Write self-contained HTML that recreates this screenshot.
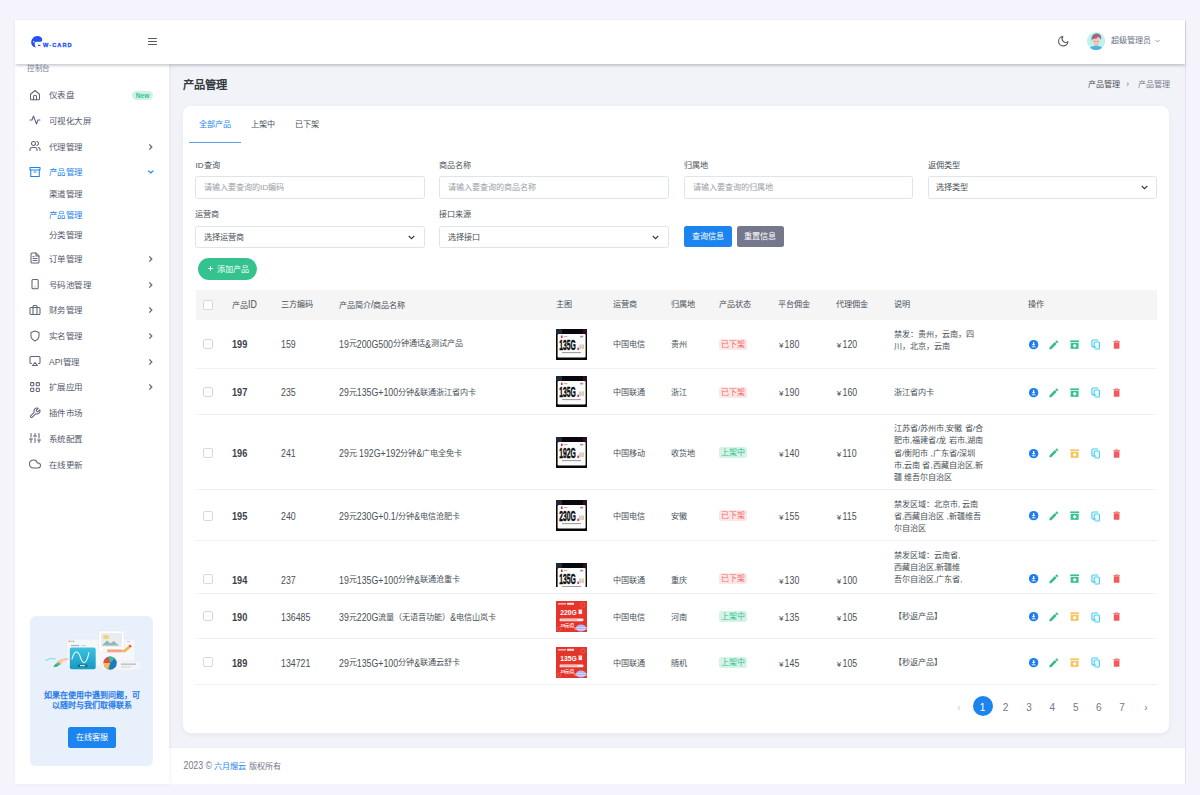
<!DOCTYPE html>
<html lang="zh-CN"><head><meta charset="utf-8"><style>
*{box-sizing:border-box;margin:0;padding:0}
html,body{width:1200px;height:795px;overflow:hidden}
body{background:#f5f4fd;font-family:"Liberation Sans",sans-serif;font-size:8.125px;color:#495057;position:relative}
.abs{position:absolute}
#app{position:absolute;left:15px;top:20px;width:1171px;height:764px;background:#f2f3f8;border-right:1px solid #e3e4ea}
#header{position:absolute;left:15px;top:20px;width:1169.5px;height:43.5px;background:#fff;box-shadow:0 2px 2.5px -0.5px rgba(40,45,80,.22),0 0 1.5px rgba(40,45,80,.07);z-index:5}
#sidebar{position:absolute;left:15px;top:63px;width:154px;height:721px;background:#fff;overflow:hidden;z-index:3;box-shadow:1px 0 4px rgba(40,45,80,.06)}
.mi{position:absolute;left:0;width:154px;height:14px;line-height:14px;color:#545a6d;font-size:8.125px}
.mi .ic{position:absolute;left:13.9px;top:1px;width:12px;height:12px}
.mi .tx{position:absolute;left:34px;top:0.5px;font-size:9px;transform:scale(.944);transform-origin:0 50%}
.mi .ch{position:absolute;left:132px;top:3.6px;width:8px;height:8px}
.sub{position:absolute;left:34px;height:12px;line-height:12px;color:#545a6d;font-size:9px;transform:scale(.944);transform-origin:0 50%}
#footer{position:absolute;left:169px;top:747px;width:1016px;height:37px;background:#fff;color:#74788d;border-top:1px solid #eceef3}
#card{position:absolute;left:183px;top:106px;width:986.4px;height:626.7px;background:#fff;border-radius:8px;box-shadow:0 2px 5px rgba(18,38,63,.05)}
.lbl{position:absolute;line-height:10px;height:10px;color:#495057;margin-top:0.9px}
.inp{position:absolute;width:229.4px;height:22.2px;border:1px solid #dfe3ea;border-radius:2.5px;line-height:20px;padding-left:7.5px;padding-top:0.9px;color:#9ba0a8;background:#fff}
.sel{color:#495057}
.sel svg{position:absolute;right:8.4px;top:8px}
.btn{position:absolute;height:21.7px;line-height:21.7px;text-align:center;color:#fff;border-radius:2.5px}
.row{position:absolute;left:12.8px;width:961px;border-bottom:1px solid #eff1f5;overflow:hidden}
.c{position:absolute;white-space:nowrap;line-height:12px;margin-top:0.6px}
.cb{position:absolute;width:10px;height:10px;border:1px solid #d6d9df;border-radius:2px;background:#fff}
.b{font-weight:bold;color:#3d4248}
.b .l{font-size:9.2px}
.nm .l{position:relative;top:1.2px}
.l{font-size:8.8px;display:inline-block;transform:scaleY(1.15);transform-origin:0 78%}
.badge{position:absolute;width:27.6px;height:11px;line-height:11px;text-align:center;border-radius:2.5px;font-size:8px}
.off{background:#fde6e6;color:#f46a6a}
.on{background:#d6f3e9;color:#34c38f}
.pg{position:absolute;top:589.9px;width:20px;height:20px;line-height:20px;text-align:center;font-size:10px;color:#74788d;padding-top:3px;line-height:17px}
</style></head>
<body>
<div id="app"></div>
<div class="abs" style="left:27px;top:64.3px;font-size:8px;color:#7a7f8e;line-height:10px;z-index:6;transform:scale(.94);transform-origin:0 0">控制台</div>
<div id="sidebar">
<div class="mi" style="top:24.7px;color:#545a6d"><svg class="ic" viewBox="0 0 24 24" fill="none" stroke="#5f6579" stroke-width="2.1" stroke-linecap="round" stroke-linejoin="round"><path d="M3 10.5L12 3l9 7.5V20a1.5 1.5 0 0 1-1.5 1.5h-15A1.5 1.5 0 0 1 3 20z"/><path d="M9 21.5v-6a3 3 0 0 1 6 0v6"/></svg><span class="tx">仪表盘</span><span class="abs" style="left:117.3px;top:2.9px;width:20.6px;height:9.3px;border-radius:4.7px;background:#d1f1e5;color:#34c38f;font-size:6.6px;font-weight:bold;line-height:9.3px;text-align:center">New</span></div>
<div class="mi" style="top:50.3px;color:#545a6d"><svg class="ic" viewBox="0 0 24 24" fill="none" stroke="#5f6579" stroke-width="2.1" stroke-linecap="round" stroke-linejoin="round"><polyline points="2 12 6 12 9 4 15 20 18 12 22 12"/></svg><span class="tx">可视化大屏</span></div>
<div class="mi" style="top:76.0px;color:#545a6d"><svg class="ic" viewBox="0 0 24 24" fill="none" stroke="#5f6579" stroke-width="2.1" stroke-linecap="round" stroke-linejoin="round"><path d="M16 21v-2a4 4 0 0 0-4-4H6a4 4 0 0 0-4 4v2"/><circle cx="9" cy="7" r="4"/><path d="M22 21v-2a4 4 0 0 0-3-3.87"/><path d="M16 3.13a4 4 0 0 1 0 7.75"/></svg><span class="tx">代理管理</span><svg class="ch" viewBox="0 0 8 8"><path d="M2.3 1.4L4.8 4 2.3 6.6" fill="none" stroke="#5f6579" stroke-width="1.25"/></svg></div>
<div class="mi" style="top:101.5px;color:#1c84ee"><svg class="ic" viewBox="0 0 24 24" fill="none" stroke="#1c84ee" stroke-width="2.1" stroke-linecap="round" stroke-linejoin="round"><polyline points="20.5 8 20.5 21 3.5 21 3.5 8"/><rect x="2" y="3" width="20" height="5"/><line x1="10" y1="12" x2="14" y2="12"/></svg><span class="tx">产品管理</span><svg class="ch" viewBox="0 0 8 8"><path d="M1.2 2.6L3.8 5 6.4 2.6" fill="none" stroke="#1c84ee" stroke-width="1.25"/></svg></div>
<div class="mi" style="top:188.3px;color:#545a6d"><svg class="ic" viewBox="0 0 24 24" fill="none" stroke="#5f6579" stroke-width="2.1" stroke-linecap="round" stroke-linejoin="round"><path d="M14 2H6a2 2 0 0 0-2 2v16a2 2 0 0 0 2 2h12a2 2 0 0 0 2-2V8z"/><polyline points="14 2 14 8 20 8"/><line x1="16" y1="13" x2="8" y2="13"/><line x1="16" y1="17" x2="8" y2="17"/><line x1="10" y1="9" x2="8" y2="9"/></svg><span class="tx">订单管理</span><svg class="ch" viewBox="0 0 8 8"><path d="M2.3 1.4L4.8 4 2.3 6.6" fill="none" stroke="#5f6579" stroke-width="1.25"/></svg></div>
<div class="mi" style="top:214.0px;color:#545a6d"><svg class="ic" viewBox="0 0 24 24" fill="none" stroke="#5f6579" stroke-width="2.1" stroke-linecap="round" stroke-linejoin="round"><rect x="6" y="3" width="12.4" height="18.5" rx="2" ry="2"/><line x1="12.2" y1="17.5" x2="12.21" y2="17.5"/></svg><span class="tx">号码池管理</span><svg class="ch" viewBox="0 0 8 8"><path d="M2.3 1.4L4.8 4 2.3 6.6" fill="none" stroke="#5f6579" stroke-width="1.25"/></svg></div>
<div class="mi" style="top:239.9px;color:#545a6d"><svg class="ic" viewBox="0 0 24 24" fill="none" stroke="#5f6579" stroke-width="2.1" stroke-linecap="round" stroke-linejoin="round"><rect x="2" y="7" width="20" height="14" rx="2" ry="2"/><path d="M16 21V5a2 2 0 0 0-2-2h-4a2 2 0 0 0-2 2v16"/></svg><span class="tx">财务管理</span><svg class="ch" viewBox="0 0 8 8"><path d="M2.3 1.4L4.8 4 2.3 6.6" fill="none" stroke="#5f6579" stroke-width="1.25"/></svg></div>
<div class="mi" style="top:265.6px;color:#545a6d"><svg class="ic" viewBox="0 0 24 24" fill="none" stroke="#5f6579" stroke-width="2.1" stroke-linecap="round" stroke-linejoin="round"><path d="M12 22s8-4 8-10V5l-8-3-8 3v7c0 6 8 10 8 10z"/></svg><span class="tx">实名管理</span><svg class="ch" viewBox="0 0 8 8"><path d="M2.3 1.4L4.8 4 2.3 6.6" fill="none" stroke="#5f6579" stroke-width="1.25"/></svg></div>
<div class="mi" style="top:291.2px;color:#545a6d"><svg class="ic" viewBox="0 0 24 24" fill="none" stroke="#5f6579" stroke-width="2.1" stroke-linecap="round" stroke-linejoin="round"><path d="M5 17H4a2 2 0 0 1-2-2V5a2 2 0 0 1 2-2h16a2 2 0 0 1 2 2v10a2 2 0 0 1-2 2h-1"/><polygon points="12 15 17 21 7 21 12 15"/></svg><span class="tx">API管理</span><svg class="ch" viewBox="0 0 8 8"><path d="M2.3 1.4L4.8 4 2.3 6.6" fill="none" stroke="#5f6579" stroke-width="1.25"/></svg></div>
<div class="mi" style="top:316.9px;color:#545a6d"><svg class="ic" viewBox="0 0 24 24" fill="none" stroke="#5f6579" stroke-width="2.1" stroke-linecap="round" stroke-linejoin="round"><rect x="3.2" y="3.2" width="6.4" height="6.4" rx="1.2"/><rect x="14.4" y="3.2" width="6.4" height="6.4" rx="1.2"/><rect x="14.4" y="14.4" width="6.4" height="6.4" rx="1.2"/><rect x="3.2" y="14.4" width="6.4" height="6.4" rx="1.2"/></svg><span class="tx">扩展应用</span><svg class="ch" viewBox="0 0 8 8"><path d="M2.3 1.4L4.8 4 2.3 6.6" fill="none" stroke="#5f6579" stroke-width="1.25"/></svg></div>
<div class="mi" style="top:342.6px;color:#545a6d"><svg class="ic" viewBox="0 0 24 24" fill="none" stroke="#5f6579" stroke-width="2.1" stroke-linecap="round" stroke-linejoin="round"><path d="M14.7 6.3a1 1 0 0 0 0 1.4l1.6 1.6a1 1 0 0 0 1.4 0l3.77-3.77a6 6 0 0 1-7.940 7.94l-6.91 6.91a2.12 2.12 0 0 1-3-3l6.91-6.91a6 6 0 0 1 7.94-7.94l-3.76 3.76z"/></svg><span class="tx">插件市场</span></div>
<div class="mi" style="top:368.3px;color:#545a6d"><svg class="ic" viewBox="0 0 24 24" fill="none" stroke="#5f6579" stroke-width="2.1" stroke-linecap="round" stroke-linejoin="round"><line x1="4" y1="21" x2="4" y2="14"/><line x1="4" y1="10" x2="4" y2="3"/><line x1="12" y1="21" x2="12" y2="12"/><line x1="12" y1="8" x2="12" y2="3"/><line x1="20" y1="21" x2="20" y2="16"/><line x1="20" y1="12" x2="20" y2="3"/><line x1="1" y1="14" x2="7" y2="14"/><line x1="9" y1="8" x2="15" y2="8"/><line x1="17" y1="16" x2="23" y2="16"/></svg><span class="tx">系统配置</span></div>
<div class="mi" style="top:394.0px;color:#545a6d"><svg class="ic" viewBox="0 0 24 24" fill="none" stroke="#5f6579" stroke-width="2.1" stroke-linecap="round" stroke-linejoin="round"><path d="M18 10h-1.26A8 8 0 1 0 9 20h9a5 5 0 0 0 0-10z"/></svg><span class="tx">在线更新</span></div>
<div class="sub" style="top:125.0px;color:#545a6d">渠道管理</div>
<div class="sub" style="top:145.5px;color:#1c84ee">产品管理</div>
<div class="sub" style="top:166.0px;color:#545a6d">分类管理</div>
<div class="abs" style="left:15px;top:552.8px;width:123px;height:150px;background:#e7f0fb;border-radius:6px">
<svg class="abs" style="left:14px;top:14px" width="104" height="44" viewBox="0 0 104 44">
 <defs><linearGradient id="tg" x1="0" y1="0" x2="0" y2="1"><stop offset="0" stop-color="#3cc3de"/><stop offset="1" stop-color="#1699c4"/></linearGradient></defs>
 <rect x="22.7" y="9.2" width="68.4" height="27" rx="1.5" fill="#f6f7fa"/>
 <rect x="22.7" y="9.2" width="68.4" height="27" rx="1.5" fill="none" stroke="#e3e6ee" stroke-width=".4"/>
 <circle cx="25.3" cy="11.3" r=".7" fill="#f46a6a"/><circle cx="27.3" cy="11.3" r=".7" fill="#f1b44c"/><circle cx="29.3" cy="11.3" r=".7" fill="#34c38f"/>
 <rect x="27" y="15" width="8" height="1.1" fill="#a9aebb"/><rect x="37" y="15" width="5" height="1.1" fill="#d4d7df"/>
 <rect x="54.8" y="0.9" width="25.3" height="21" rx="1.5" fill="#fff"/>
 <rect x="54.8" y="0.9" width="25.3" height="21" rx="1.5" fill="none" stroke="#e0e3ea" stroke-width=".5"/>
 <rect x="57" y="3" width="21" height="14" fill="#e9ecf1"/>
 <ellipse cx="62" cy="7" rx="3.3" ry="2" fill="#f5d46f"/>
 <path d="M58 15.5l5-5 3.5 3 3-2.6 5.5 4.6z" fill="#8fb8b0"/>
 <rect x="58" y="18.8" width="18" height="1.2" rx=".6" fill="#eef0f4"/>
 <rect x="83" y="11" width="3" height="1" fill="#c7cbd4"/>
 <rect x="63" y="19.6" width="16" height="2.6" rx="1.3" fill="#f6a481"/>
 <path d="M78.5 21l6.5-5.4 1.8 1.8-6.5 5.4z" fill="#f4b63d"/><path d="M84.6 15.8l1.4-1.2 1.8 1.8-1.4 1.2z" fill="#e5484d"/>
 <rect x="25.8" y="17.5" width="25.9" height="21.8" rx="2" fill="url(#tg)"/>
 <path d="M28 29c2.5-9 6-9 8.5-1.5s6 7 8.5-5" stroke="#eafaff" stroke-width="1.1" fill="none" stroke-linecap="round"/>
 <rect x="33.5" y="34.5" width="10" height="2.4" rx="1.2" fill="#0f5f80" opacity=".8"/><rect x="36" y="35.2" width="5" height="1" fill="#fff"/>
 <path d="M2 30.5c3-2 6-2.4 9-1.6" stroke="#7fe3d3" stroke-width="1.2" fill="none" stroke-linecap="round"/>
 <path d="M13 31.5c3-2.2 6.5-3.6 10-3.6l2 1.2-2.4 1.4-3 .2-2.6 3.6-3 1.4z" fill="#f8c7a4"/>
 <path d="M10.5 34.5l4-2.6 2.2 2.4-4 2.6z" fill="#4cc38a"/><path d="M9.5 36l3.2-1.6.9 1.2-3.2 1.6z" fill="#2c9a68"/>
 <rect x="56.9" y="31" width="40.5" height="9.4" rx="1.5" fill="#f3f4f7"/>
 <rect x="56.9" y="31" width="40.5" height="9.4" rx="1.5" fill="none" stroke="#e6e8ee" stroke-width=".4"/>
 <rect x="77" y="33.6" width="15" height="1.1" fill="#a9aebb"/><rect x="77" y="36.4" width="10" height="1" fill="#cfd3db"/>
 <circle cx="66.2" cy="33.1" r="6.6" fill="#1f78c1"/>
 <path d="M66.2 33.1L59.6 33.1A6.6 6.6 0 0 1 64.5 26.7z" fill="#e9484a"/>
 <path d="M66.2 33.1L64.5 26.7A6.6 6.6 0 0 1 70.8 28.4z" fill="#34c38f"/>
 <path d="M66.2 33.1L59.6 33.1A6.6 6.6 0 0 0 64.2 39.4z" fill="#f4c04d"/>
</svg>
<div class="abs" style="left:0;top:75px;width:123px;text-align:center;color:#2b7ce8;font-size:8px;line-height:10.4px;font-weight:bold">如果在使用中遇到问题，可<br>以随时与我们取得联系</div>
<div class="btn" style="left:38px;top:110.8px;width:48px;height:21.8px;line-height:21.8px;background:#1c84ee;font-size:8.125px">在线客服</div>
</div>
</div>
<div id="header">
 <svg class="abs" style="left:15.5px;top:16px" width="12" height="12" viewBox="0 0 12 12"><path d="M0.2 6.6C0.2 2.9 2.9 0 6.3 0 9.1 0 11.3 1.7 11.3 3.9c0 1.3-1.2 1.8-2.8 1.8H5.6C4.4 5.7 3.7 6.6 3.7 7.9c0 1.3.5 2.5 1.3 3.7C2.3 11.4.2 9.2.2 6.6z" fill="#2450f4"/><circle cx="2.8" cy="5.8" r=".75" fill="#fff"/><rect x="7" y="8.8" width="2.5" height="1.1" rx=".5" fill="#2450f4"/></svg>
 <div class="abs" style="left:28px;top:22.2px;font-size:5.6px;font-weight:bold;letter-spacing:1.05px;color:#2450f4;line-height:6px;-webkit-text-stroke:.3px #2450f4">W·CARD</div>
 <div class="abs" style="left:133.2px;top:18px;width:8.8px;height:1.1px;background:#5a5660;border-radius:.5px;box-shadow:0 3px 0 #5a5660,0 6px 0 #5a5660"></div>
 <svg class="abs" style="left:1041.9px;top:14.9px" width="12.5" height="12.5" viewBox="0 0 24 24"><path d="M21 12.79A9 9 0 1 1 11.21 3 7 7 0 0 0 21 12.79z" fill="none" stroke="#5e595f" stroke-width="2.1" stroke-linejoin="round"/></svg>
 <svg class="abs" style="left:1072.1px;top:12.1px" width="18.2" height="18.2" viewBox="0 0 18 18"><defs><clipPath id="av"><circle cx="9" cy="9" r="9"/></clipPath></defs><g clip-path="url(#av)"><rect width="18" height="18" fill="#bdf3ec"/><path d="M1.6 18.5C2 15.2 4.8 13.6 9 13.6s7 1.6 7.4 4.9z" fill="#4cb2ee"/><rect x="7.7" y="10.6" width="2.8" height="3.4" fill="#f6a995"/><ellipse cx="9.1" cy="8.5" rx="3.4" ry="3.7" fill="#f6c8bb"/><path d="M4.7 8.8C3.9 4.6 6 1.6 9.6 1.6c3.2 0 5.2 2.4 4.2 6.3-.5-1.2-1.3-2.2-2.4-2.6-1.3 1.1-3.6 1.6-5.6 1.7-.5.5-.8 1.1-1.1 1.8z" fill="#996883"/><ellipse cx="11" cy="5.3" rx=".9" ry=".7" fill="#f3c2c2"/><circle cx="7.7" cy="9.1" r=".5" fill="#6f5566"/><circle cx="10.6" cy="9.1" r=".5" fill="#6f5566"/></g></svg>
 <div class="abs" style="left:1096px;top:15.5px;font-size:8.125px;color:#6a6f7f;line-height:10px">超级管理员</div>
 <svg class="abs" style="left:1139.5px;top:18.5px" width="5" height="4" viewBox="0 0 10 8"><path d="M1 2l4 4 4-4" fill="none" stroke="#777" stroke-width="1.4"/></svg>
</div>
<div class="abs" style="left:183px;top:78.5px;font-size:11.25px;font-weight:bold;color:#343a40;line-height:12px">产品管理</div>
<div class="abs" style="left:1087.5px;top:79.6px;font-size:8.125px;color:#495057;line-height:10px">产品管理</div><div class="abs" style="left:1126.3px;top:79.2px;font-size:8.5px;color:#74788d;line-height:10px">›</div><div class="abs" style="left:1137.6px;top:79.6px;font-size:8.125px;color:#74788d;line-height:10px">产品管理</div>
<div id="card"><div class="abs" style="left:16.3px;top:14px;line-height:10px;color:#1c84ee">全部产品</div>
<div class="abs" style="left:68px;top:14px;line-height:10px;color:#495057">上架中</div>
<div class="abs" style="left:111.7px;top:14px;line-height:10px;color:#495057">已下架</div>
<div class="abs" style="left:6.3px;top:35.6px;width:51.6px;height:1.3px;background:#5a9ef0"></div>
<div class="lbl" style="left:12.4px;top:54.2px">ID查询</div>
<div class="inp" style="left:12.4px;top:70.4px">请输入要查询的ID编码</div>
<div class="lbl" style="left:256.4px;top:54.2px">商品名称</div>
<div class="inp" style="left:256.4px;top:70.4px">请输入要查询的商品名称</div>
<div class="lbl" style="left:501px;top:54.2px">归属地</div>
<div class="inp" style="left:501px;top:70.4px">请输入要查询的归属地</div>
<div class="lbl" style="left:744.8px;top:54.2px">返佣类型</div>
<div class="inp sel" style="left:744.8px;top:70.4px">选择类型<svg width="7" height="5" viewBox="0 0 14 10"><path d="M1.5 2l5.5 5.5 5.5-5.5" fill="none" stroke="#343a40" stroke-width="2.2"/></svg></div>
<div class="lbl" style="left:12.4px;top:103.1px">运营商</div>
<div class="lbl" style="left:256.4px;top:103.1px">接口来源</div>
<div class="inp sel" style="left:12.4px;top:119.8px">选择运营商<svg width="7" height="5" viewBox="0 0 14 10"><path d="M1.5 2l5.5 5.5 5.5-5.5" fill="none" stroke="#343a40" stroke-width="2.2"/></svg></div>
<div class="inp sel" style="left:256.4px;top:119.8px">选择接口<svg width="7" height="5" viewBox="0 0 14 10"><path d="M1.5 2l5.5 5.5 5.5-5.5" fill="none" stroke="#343a40" stroke-width="2.2"/></svg></div>
<div class="btn" style="left:501px;top:119.8px;width:47.7px;background:#1c84ee">查询信息</div>
<div class="btn" style="left:553.6px;top:119.8px;width:47.7px;background:#74788d">重置信息</div>
<div class="btn" style="left:15.4px;top:151.7px;width:58.6px;height:22.3px;line-height:22.3px;border-radius:11.2px;background:#34c38f"><svg class="abs" style="left:10px;top:8.6px" width="5" height="5" viewBox="0 0 10 10"><path d="M5 0.5v9M0.5 5h9" stroke="#fff" stroke-width="2"/></svg><span class="abs" style="left:18.5px;top:1.2px">添加产品</span></div>
<div class="abs" style="left:12.8px;top:184px;width:961px;height:29.5px;background:#f5f5f6"></div>
<div class="cb" style="left:19.8px;top:193.8px"></div>
<div class="c" style="left:49px;top:192.2px;color:#495057">产品<span class="l">ID</span></div>
<div class="c" style="left:98px;top:192.2px;color:#495057">三方编码</div>
<div class="c" style="left:156px;top:192.2px;color:#495057">产品简介<span class="l">/</span>商品名称</div>
<div class="c" style="left:372.6px;top:192.2px;color:#495057">主图</div>
<div class="c" style="left:429.6px;top:192.2px;color:#495057">运营商</div>
<div class="c" style="left:488.1px;top:192.2px;color:#495057">归属地</div>
<div class="c" style="left:535.8px;top:192.2px;color:#495057">产品状态</div>
<div class="c" style="left:594.9px;top:192.2px;color:#495057">平台佣金</div>
<div class="c" style="left:652.8px;top:192.2px;color:#495057">代理佣金</div>
<div class="c" style="left:710.9px;top:192.2px;color:#495057">说明</div>
<div class="c" style="left:844.8px;top:192.2px;color:#495057">操作</div>
<div class="row" style="top:213.5px;height:49.0px"><div class="cb" style="left:7.0px;top:19.5px"></div><div class="c b" style="left:36.2px;top:18.5px"><span class="l">199</span></div><div class="c" style="left:85.2px;top:18.5px"><span class="l">159</span></div><div class="c nm" style="left:143.2px;top:17.3px"><span class="l">19</span>元<span class="l">200G500</span>分钟通话<span class="l">&</span>测试产品</div><div class="abs" style="left:359.8px;top:9.0px;width:31px;height:31px"><svg width="31" height="31" viewBox="0 0 31 31"><rect width="31" height="31" fill="#07070d"/>
<rect x="0" y="0" width="6" height="5" fill="#1c2a3a"/><rect x="27" y="0" width="4" height="6" fill="#2a1020"/>
<rect x="1.6" y="5" width="28" height="23.4" rx="1.2" fill="#fbfbfb"/>
<rect x="5" y="6.6" width="1.6" height="2.4" fill="#e0242c"/><rect x="8" y="7.3" width="3.4" height=".8" fill="#9a9a9a"/><rect x="24" y="6.8" width="3.2" height="1.6" fill="#9c9c9c"/>
<text x="3.2" y="21.3" font-size="14.2" font-weight="bold" fill="#0b0b0b" stroke="#0b0b0b" stroke-width=".45" font-family="Liberation Sans" textLength="16.6" lengthAdjust="spacingAndGlyphs">135G</text>
<rect x="21.4" y="18.6" width="1.5" height="2.4" fill="#e0242c"/><rect x="23" y="15.6" width="2.2" height="4.6" fill="#c8d0e6"/><rect x="25.4" y="15.4" width="2.6" height="4.6" fill="#e6cf9a"/>
<rect x="6" y="23.2" width="19" height=".9" fill="#8a8a8a"/></svg></div><div class="c" style="left:416.8px;top:18.5px">中国电信</div><div class="c" style="left:475.3px;top:18.5px">贵州</div><div class="badge off" style="left:523.4px;top:19.2px">已下架</div><div class="c" style="left:583.1px;top:18.5px"><span style="margin-right:1.2px">¥</span><span class="l">180</span></div><div class="c" style="left:641.0px;top:18.5px"><span style="margin-right:1.2px">¥</span><span class="l">120</span></div><div class="c" style="left:698.1px;top:8.6px;line-height:12.2px">禁发：贵州，云南，四<br>川，北京，云南</div><div class="abs" style="left:0;top:25.1px"><svg class="abs" style="left:831.88px;top:-5.62px" width="11.25" height="11.25" viewBox="0 0 24 24"><circle cx="12" cy="12" r="10" fill="#1c7cf0"/><path d="M10.6 6.2h2.8v4.3h2.6L12 14.6 8 10.5h2.6z" fill="#fff"/><rect x="8" y="15.6" width="8" height="2" fill="#fff"/></svg><svg class="abs" style="left:852.15px;top:-5.85px" width="11.7" height="11.7" viewBox="0 0 24 24"><path d="M20.71 7.04c.39-.39.39-1.04 0-1.41l-2.34-2.34c-.37-.39-1.02-.39-1.41 0l-1.84 1.83 3.75 3.75M3 17.25V21h3.75L17.81 9.93l-3.75-3.75L3 17.25z" fill="#2fbf80"/></svg><svg class="abs" style="left:873.28px;top:-5.62px" width="11.25" height="11.25" viewBox="0 0 24 24"><rect x="2.6" y="3" width="18.8" height="3.4" fill="#34c38f"/><rect x="3.6" y="8" width="16.8" height="13" fill="#34c38f"/><path d="M12 10.2l4.2 4.2-4.2 4.2-4.2-4.2z" fill="#fff"/></svg><svg class="abs" style="left:895.20px;top:-5.4px" width="9.3" height="11" viewBox="0 0 15.3 18"><path d="M11 1.5H3.3Q1.5 1.5 1.5 3.3V11.6Q1.5 13.2 3.3 13.2H8.2" fill="none" stroke="#3dcdf0" stroke-width="1.85" stroke-linecap="round"/><path d="M5.2 14.8V6.6Q5.2 4.8 7 4.8H12Q13.8 4.8 13.8 6.6V14.6Q13.8 16.4 12 16.4H7" fill="none" stroke="#3dcdf0" stroke-width="1.85" stroke-linecap="round"/></svg><svg class="abs" style="left:915.17px;top:-5.62px" width="11.25" height="11.25" viewBox="0 0 24 24"><path d="M19 4h-3.5l-1-1h-5l-1 1H5v2h14M6 19a2 2 0 0 0 2 2h8a2 2 0 0 0 2-2V7H6v12z" fill="#f25b5b"/></svg></div></div>
<div class="row" style="top:262.5px;height:46.7px"><div class="cb" style="left:7.0px;top:18.3px"></div><div class="c b" style="left:36.2px;top:18.3px"><span class="l">197</span></div><div class="c" style="left:85.2px;top:18.3px"><span class="l">235</span></div><div class="c nm" style="left:143.2px;top:17.1px"><span class="l">29</span>元<span class="l">135G+100</span>分钟<span class="l">&</span>联通浙江省内卡</div><div class="abs" style="left:359.8px;top:7.8px;width:31px;height:31px"><svg width="31" height="31" viewBox="0 0 31 31"><rect width="31" height="31" fill="#07070d"/>
<rect x="0" y="0" width="6" height="5" fill="#1c2a3a"/><rect x="27" y="0" width="4" height="6" fill="#2a1020"/>
<rect x="1.6" y="5" width="28" height="23.4" rx="1.2" fill="#fbfbfb"/>
<rect x="5" y="6.6" width="1.6" height="2.4" fill="#e0242c"/><rect x="8" y="7.3" width="3.4" height=".8" fill="#9a9a9a"/><rect x="24" y="6.8" width="3.2" height="1.6" fill="#9c9c9c"/>
<text x="3.2" y="21.3" font-size="14.2" font-weight="bold" fill="#0b0b0b" stroke="#0b0b0b" stroke-width=".45" font-family="Liberation Sans" textLength="16.6" lengthAdjust="spacingAndGlyphs">135G</text>
<rect x="21.4" y="18.6" width="1.5" height="2.4" fill="#e0242c"/><rect x="23" y="15.6" width="2.2" height="4.6" fill="#c8d0e6"/><rect x="25.4" y="15.4" width="2.6" height="4.6" fill="#e6cf9a"/>
<rect x="6" y="23.2" width="19" height=".9" fill="#8a8a8a"/></svg></div><div class="c" style="left:416.8px;top:18.3px">中国联通</div><div class="c" style="left:475.3px;top:18.3px">浙江</div><div class="badge off" style="left:523.4px;top:18.0px">已下架</div><div class="c" style="left:583.1px;top:18.3px"><span style="margin-right:1.2px">¥</span><span class="l">190</span></div><div class="c" style="left:641.0px;top:18.3px"><span style="margin-right:1.2px">¥</span><span class="l">160</span></div><div class="c" style="left:698.1px;top:18.1px;line-height:12.2px">浙江省内卡</div><div class="abs" style="left:0;top:23.9px"><svg class="abs" style="left:831.88px;top:-5.62px" width="11.25" height="11.25" viewBox="0 0 24 24"><circle cx="12" cy="12" r="10" fill="#1c7cf0"/><path d="M10.6 6.2h2.8v4.3h2.6L12 14.6 8 10.5h2.6z" fill="#fff"/><rect x="8" y="15.6" width="8" height="2" fill="#fff"/></svg><svg class="abs" style="left:852.15px;top:-5.85px" width="11.7" height="11.7" viewBox="0 0 24 24"><path d="M20.71 7.04c.39-.39.39-1.04 0-1.41l-2.34-2.34c-.37-.39-1.02-.39-1.41 0l-1.84 1.83 3.75 3.75M3 17.25V21h3.75L17.81 9.93l-3.75-3.75L3 17.25z" fill="#2fbf80"/></svg><svg class="abs" style="left:873.28px;top:-5.62px" width="11.25" height="11.25" viewBox="0 0 24 24"><rect x="2.6" y="3" width="18.8" height="3.4" fill="#34c38f"/><rect x="3.6" y="8" width="16.8" height="13" fill="#34c38f"/><path d="M12 10.2l4.2 4.2-4.2 4.2-4.2-4.2z" fill="#fff"/></svg><svg class="abs" style="left:895.20px;top:-5.4px" width="9.3" height="11" viewBox="0 0 15.3 18"><path d="M11 1.5H3.3Q1.5 1.5 1.5 3.3V11.6Q1.5 13.2 3.3 13.2H8.2" fill="none" stroke="#3dcdf0" stroke-width="1.85" stroke-linecap="round"/><path d="M5.2 14.8V6.6Q5.2 4.8 7 4.8H12Q13.8 4.8 13.8 6.6V14.6Q13.8 16.4 12 16.4H7" fill="none" stroke="#3dcdf0" stroke-width="1.85" stroke-linecap="round"/></svg><svg class="abs" style="left:915.17px;top:-5.62px" width="11.25" height="11.25" viewBox="0 0 24 24"><path d="M19 4h-3.5l-1-1h-5l-1 1H5v2h14M6 19a2 2 0 0 0 2 2h8a2 2 0 0 0 2-2V7H6v12z" fill="#f25b5b"/></svg></div></div>
<div class="row" style="top:309.2px;height:74.8px"><div class="cb" style="left:7.0px;top:32.4px"></div><div class="c b" style="left:36.2px;top:32.6px"><span class="l">196</span></div><div class="c" style="left:85.2px;top:32.6px"><span class="l">241</span></div><div class="c nm" style="left:143.2px;top:31.4px"><span class="l">29</span>元 <span class="l">192G+192</span>分钟<span class="l">&</span>广电全免卡</div><div class="abs" style="left:359.8px;top:21.9px;width:31px;height:31px"><svg width="31" height="31" viewBox="0 0 31 31"><rect width="31" height="31" fill="#07070d"/>
<rect x="0" y="0" width="6" height="5" fill="#1c2a3a"/><rect x="27" y="0" width="4" height="6" fill="#2a1020"/>
<rect x="1.6" y="5" width="28" height="23.4" rx="1.2" fill="#fbfbfb"/>
<rect x="5" y="6.6" width="1.6" height="2.4" fill="#e0242c"/><rect x="8" y="7.3" width="3.4" height=".8" fill="#9a9a9a"/><rect x="24" y="6.8" width="3.2" height="1.6" fill="#9c9c9c"/>
<text x="3.2" y="21.3" font-size="14.2" font-weight="bold" fill="#0b0b0b" stroke="#0b0b0b" stroke-width=".45" font-family="Liberation Sans" textLength="16.6" lengthAdjust="spacingAndGlyphs">192G</text>
<rect x="21.4" y="18.6" width="1.5" height="2.4" fill="#e0242c"/><rect x="23" y="15.6" width="2.2" height="4.6" fill="#c8d0e6"/><rect x="25.4" y="15.4" width="2.6" height="4.6" fill="#e6cf9a"/>
<rect x="6" y="23.2" width="19" height=".9" fill="#8a8a8a"/></svg></div><div class="c" style="left:416.8px;top:32.6px">中国移动</div><div class="c" style="left:475.3px;top:32.6px">收货地</div><div class="badge on" style="left:523.4px;top:32.1px">上架中</div><div class="c" style="left:583.1px;top:32.6px"><span style="margin-right:1.2px">¥</span><span class="l">140</span></div><div class="c" style="left:641.0px;top:32.6px"><span style="margin-right:1.2px">¥</span><span class="l">110</span></div><div class="c" style="left:698.1px;top:7.5px;line-height:12.2px">江苏省/苏州市,安徽 省/合<br>肥市,福建省/龙 岩市,湖南<br>省/衡阳市 ,广东省/深圳<br>市,云南 省,西藏自治区,新<br>疆 维吾尔自治区</div><div class="abs" style="left:0;top:38.0px"><svg class="abs" style="left:831.88px;top:-5.62px" width="11.25" height="11.25" viewBox="0 0 24 24"><circle cx="12" cy="12" r="10" fill="#1c7cf0"/><path d="M10.6 6.2h2.8v4.3h2.6L12 14.6 8 10.5h2.6z" fill="#fff"/><rect x="8" y="15.6" width="8" height="2" fill="#fff"/></svg><svg class="abs" style="left:852.15px;top:-5.85px" width="11.7" height="11.7" viewBox="0 0 24 24"><path d="M20.71 7.04c.39-.39.39-1.04 0-1.41l-2.34-2.34c-.37-.39-1.02-.39-1.41 0l-1.84 1.83 3.75 3.75M3 17.25V21h3.75L17.81 9.93l-3.75-3.75L3 17.25z" fill="#2fbf80"/></svg><svg class="abs" style="left:873.28px;top:-5.62px" width="11.25" height="11.25" viewBox="0 0 24 24"><rect x="2.6" y="3" width="18.8" height="3.4" fill="#f7c35a"/><rect x="3.6" y="8" width="16.8" height="13" fill="#f7c35a"/><path d="M12 10.2l4.2 4.2-4.2 4.2-4.2-4.2z" fill="#fff"/></svg><svg class="abs" style="left:895.20px;top:-5.4px" width="9.3" height="11" viewBox="0 0 15.3 18"><path d="M11 1.5H3.3Q1.5 1.5 1.5 3.3V11.6Q1.5 13.2 3.3 13.2H8.2" fill="none" stroke="#3dcdf0" stroke-width="1.85" stroke-linecap="round"/><path d="M5.2 14.8V6.6Q5.2 4.8 7 4.8H12Q13.8 4.8 13.8 6.6V14.6Q13.8 16.4 12 16.4H7" fill="none" stroke="#3dcdf0" stroke-width="1.85" stroke-linecap="round"/></svg><svg class="abs" style="left:915.17px;top:-5.62px" width="11.25" height="11.25" viewBox="0 0 24 24"><path d="M19 4h-3.5l-1-1h-5l-1 1H5v2h14M6 19a2 2 0 0 0 2 2h8a2 2 0 0 0 2-2V7H6v12z" fill="#f25b5b"/></svg></div></div>
<div class="row" style="top:384px;height:51.0px"><div class="cb" style="left:7.0px;top:20.5px"></div><div class="c b" style="left:36.2px;top:20.9px"><span class="l">195</span></div><div class="c" style="left:85.2px;top:20.9px"><span class="l">240</span></div><div class="c nm" style="left:143.2px;top:19.7px"><span class="l">29</span>元<span class="l">230G+0.1/</span>分钟<span class="l">&</span>电信沧肥卡</div><div class="abs" style="left:359.8px;top:10.0px;width:31px;height:31px"><svg width="31" height="31" viewBox="0 0 31 31"><rect width="31" height="31" fill="#07070d"/>
<rect x="0" y="0" width="6" height="5" fill="#1c2a3a"/><rect x="27" y="0" width="4" height="6" fill="#2a1020"/>
<rect x="1.6" y="5" width="28" height="23.4" rx="1.2" fill="#fbfbfb"/>
<rect x="5" y="6.6" width="1.6" height="2.4" fill="#e0242c"/><rect x="8" y="7.3" width="3.4" height=".8" fill="#9a9a9a"/><rect x="24" y="6.8" width="3.2" height="1.6" fill="#9c9c9c"/>
<text x="3.2" y="21.3" font-size="14.2" font-weight="bold" fill="#0b0b0b" stroke="#0b0b0b" stroke-width=".45" font-family="Liberation Sans" textLength="16.6" lengthAdjust="spacingAndGlyphs">230G</text>
<rect x="21.4" y="18.6" width="1.5" height="2.4" fill="#e0242c"/><rect x="23" y="15.6" width="2.2" height="4.6" fill="#c8d0e6"/><rect x="25.4" y="15.4" width="2.6" height="4.6" fill="#e6cf9a"/>
<rect x="6" y="23.2" width="19" height=".9" fill="#8a8a8a"/></svg></div><div class="c" style="left:416.8px;top:20.9px">中国电信</div><div class="c" style="left:475.3px;top:20.9px">安徽</div><div class="badge off" style="left:523.4px;top:20.2px">已下架</div><div class="c" style="left:583.1px;top:20.9px"><span style="margin-right:1.2px">¥</span><span class="l">155</span></div><div class="c" style="left:641.0px;top:20.9px"><span style="margin-right:1.2px">¥</span><span class="l">115</span></div><div class="c" style="left:698.1px;top:8.0px;line-height:12.2px">禁发区域：北京市, 云南<br>省,西藏自治区 ,新疆维吾<br>尔自治区</div><div class="abs" style="left:0;top:26.1px"><svg class="abs" style="left:831.88px;top:-5.62px" width="11.25" height="11.25" viewBox="0 0 24 24"><circle cx="12" cy="12" r="10" fill="#1c7cf0"/><path d="M10.6 6.2h2.8v4.3h2.6L12 14.6 8 10.5h2.6z" fill="#fff"/><rect x="8" y="15.6" width="8" height="2" fill="#fff"/></svg><svg class="abs" style="left:852.15px;top:-5.85px" width="11.7" height="11.7" viewBox="0 0 24 24"><path d="M20.71 7.04c.39-.39.39-1.04 0-1.41l-2.34-2.34c-.37-.39-1.02-.39-1.41 0l-1.84 1.83 3.75 3.75M3 17.25V21h3.75L17.81 9.93l-3.75-3.75L3 17.25z" fill="#2fbf80"/></svg><svg class="abs" style="left:873.28px;top:-5.62px" width="11.25" height="11.25" viewBox="0 0 24 24"><rect x="2.6" y="3" width="18.8" height="3.4" fill="#34c38f"/><rect x="3.6" y="8" width="16.8" height="13" fill="#34c38f"/><path d="M12 10.2l4.2 4.2-4.2 4.2-4.2-4.2z" fill="#fff"/></svg><svg class="abs" style="left:895.20px;top:-5.4px" width="9.3" height="11" viewBox="0 0 15.3 18"><path d="M11 1.5H3.3Q1.5 1.5 1.5 3.3V11.6Q1.5 13.2 3.3 13.2H8.2" fill="none" stroke="#3dcdf0" stroke-width="1.85" stroke-linecap="round"/><path d="M5.2 14.8V6.6Q5.2 4.8 7 4.8H12Q13.8 4.8 13.8 6.6V14.6Q13.8 16.4 12 16.4H7" fill="none" stroke="#3dcdf0" stroke-width="1.85" stroke-linecap="round"/></svg><svg class="abs" style="left:915.17px;top:-5.62px" width="11.25" height="11.25" viewBox="0 0 24 24"><path d="M19 4h-3.5l-1-1h-5l-1 1H5v2h14M6 19a2 2 0 0 0 2 2h8a2 2 0 0 0 2-2V7H6v12z" fill="#f25b5b"/></svg></div></div>
<div class="row" style="top:435px;height:52.5px"><div class="abs" style="left:0;top:0;width:961px;height:46px;overflow:hidden"><div class="cb" style="left:7.0px;top:32.5px"></div><div class="c b" style="left:36.2px;top:33.0px"><span class="l">194</span></div><div class="c" style="left:85.2px;top:33.0px"><span class="l">237</span></div><div class="c nm" style="left:143.2px;top:31.8px"><span class="l">19</span>元<span class="l">135G+100</span>分钟<span class="l">&</span>联通沧重卡</div><div class="abs" style="left:359.8px;top:22.0px;width:31px;height:31px"><svg width="31" height="31" viewBox="0 0 31 31"><rect width="31" height="31" fill="#07070d"/>
<rect x="0" y="0" width="6" height="5" fill="#1c2a3a"/><rect x="27" y="0" width="4" height="6" fill="#2a1020"/>
<rect x="1.6" y="5" width="28" height="23.4" rx="1.2" fill="#fbfbfb"/>
<rect x="5" y="6.6" width="1.6" height="2.4" fill="#e0242c"/><rect x="8" y="7.3" width="3.4" height=".8" fill="#9a9a9a"/><rect x="24" y="6.8" width="3.2" height="1.6" fill="#9c9c9c"/>
<text x="3.2" y="21.3" font-size="14.2" font-weight="bold" fill="#0b0b0b" stroke="#0b0b0b" stroke-width=".45" font-family="Liberation Sans" textLength="16.6" lengthAdjust="spacingAndGlyphs">135G</text>
<rect x="21.4" y="18.6" width="1.5" height="2.4" fill="#e0242c"/><rect x="23" y="15.6" width="2.2" height="4.6" fill="#c8d0e6"/><rect x="25.4" y="15.4" width="2.6" height="4.6" fill="#e6cf9a"/>
<rect x="6" y="23.2" width="19" height=".9" fill="#8a8a8a"/></svg></div><div class="c" style="left:416.8px;top:33.0px">中国联通</div><div class="c" style="left:475.3px;top:33.0px">重庆</div><div class="badge off" style="left:523.4px;top:32.2px">已下架</div><div class="c" style="left:583.1px;top:33.0px"><span style="margin-right:1.2px">¥</span><span class="l">130</span></div><div class="c" style="left:641.0px;top:33.0px"><span style="margin-right:1.2px">¥</span><span class="l">100</span></div><div class="c" style="left:698.1px;top:8.4px;line-height:12.2px">禁发区域：云南省,<br>西藏自治区,新疆维<br>吾尔自治区,广东省,</div><div class="abs" style="left:0;top:38.1px"><svg class="abs" style="left:831.88px;top:-5.62px" width="11.25" height="11.25" viewBox="0 0 24 24"><circle cx="12" cy="12" r="10" fill="#1c7cf0"/><path d="M10.6 6.2h2.8v4.3h2.6L12 14.6 8 10.5h2.6z" fill="#fff"/><rect x="8" y="15.6" width="8" height="2" fill="#fff"/></svg><svg class="abs" style="left:852.15px;top:-5.85px" width="11.7" height="11.7" viewBox="0 0 24 24"><path d="M20.71 7.04c.39-.39.39-1.04 0-1.41l-2.34-2.34c-.37-.39-1.02-.39-1.41 0l-1.84 1.83 3.75 3.75M3 17.25V21h3.75L17.81 9.93l-3.75-3.75L3 17.25z" fill="#2fbf80"/></svg><svg class="abs" style="left:873.28px;top:-5.62px" width="11.25" height="11.25" viewBox="0 0 24 24"><rect x="2.6" y="3" width="18.8" height="3.4" fill="#34c38f"/><rect x="3.6" y="8" width="16.8" height="13" fill="#34c38f"/><path d="M12 10.2l4.2 4.2-4.2 4.2-4.2-4.2z" fill="#fff"/></svg><svg class="abs" style="left:895.20px;top:-5.4px" width="9.3" height="11" viewBox="0 0 15.3 18"><path d="M11 1.5H3.3Q1.5 1.5 1.5 3.3V11.6Q1.5 13.2 3.3 13.2H8.2" fill="none" stroke="#3dcdf0" stroke-width="1.85" stroke-linecap="round"/><path d="M5.2 14.8V6.6Q5.2 4.8 7 4.8H12Q13.8 4.8 13.8 6.6V14.6Q13.8 16.4 12 16.4H7" fill="none" stroke="#3dcdf0" stroke-width="1.85" stroke-linecap="round"/></svg><svg class="abs" style="left:915.17px;top:-5.62px" width="11.25" height="11.25" viewBox="0 0 24 24"><path d="M19 4h-3.5l-1-1h-5l-1 1H5v2h14M6 19a2 2 0 0 0 2 2h8a2 2 0 0 0 2-2V7H6v12z" fill="#f25b5b"/></svg></div></div></div>
<div class="row" style="top:487.5px;height:45.7px"><div class="cb" style="left:7.0px;top:17.9px"></div><div class="c b" style="left:36.2px;top:17.8px"><span class="l">190</span></div><div class="c" style="left:85.2px;top:17.8px"><span class="l">136485</span></div><div class="c nm" style="left:143.2px;top:16.6px"><span class="l">39</span>元<span class="l">220G</span>流量（无语音功能）<span class="l">&</span>电信山岚卡</div><div class="abs" style="left:359.8px;top:7.4px;width:31px;height:31px"><svg width="31" height="31" viewBox="0 0 31 31"><rect width="31" height="31" fill="#e4352c"/>
<rect x="2" y="2" width="8" height="1.6" fill="#f7b0a8"/><rect x="11" y="1.8" width="7" height="2" fill="#fbe0dc"/>
<circle cx="27" cy="4" r="2.2" fill="none" stroke="#f08a80" stroke-width=".4"/>
<text x="4.3" y="13.6" font-size="7.6" font-weight="bold" fill="#fff" font-family="Liberation Sans" textLength="16.5" lengthAdjust="spacingAndGlyphs">220G</text>
<rect x="22.5" y="8.5" width="3.6" height="4.6" fill="#fde4e0"/>
<rect x="3.5" y="17.6" width="24" height="2.6" rx="1.3" fill="#fbe9ea"/>
<rect x="5" y="18.4" width="16" height="1" fill="#e9a2a0"/>
<text x="4.6" y="26.2" font-size="4.2" fill="#fff" font-family="Liberation Sans" font-weight="bold">39元/月</text>
<ellipse cx="25" cy="27" rx="5" ry="3.6" fill="#aeb8f4"/><ellipse cx="25" cy="27.5" rx="7" ry="1.2" fill="none" stroke="#e7ebff" stroke-width=".6"/>
<circle cx="3" cy="28" r="2" fill="none" stroke="#f08a80" stroke-width=".4"/></svg></div><div class="c" style="left:416.8px;top:17.8px">中国电信</div><div class="c" style="left:475.3px;top:17.8px">河南</div><div class="badge on" style="left:523.4px;top:17.6px">上架中</div><div class="c" style="left:583.1px;top:17.8px"><span style="margin-right:1.2px">¥</span><span class="l">135</span></div><div class="c" style="left:641.0px;top:17.8px"><span style="margin-right:1.2px">¥</span><span class="l">105</span></div><div class="c" style="left:698.1px;top:17.1px;line-height:12.2px">【秒返产品】</div><div class="abs" style="left:0;top:23.5px"><svg class="abs" style="left:831.88px;top:-5.62px" width="11.25" height="11.25" viewBox="0 0 24 24"><circle cx="12" cy="12" r="10" fill="#1c7cf0"/><path d="M10.6 6.2h2.8v4.3h2.6L12 14.6 8 10.5h2.6z" fill="#fff"/><rect x="8" y="15.6" width="8" height="2" fill="#fff"/></svg><svg class="abs" style="left:852.15px;top:-5.85px" width="11.7" height="11.7" viewBox="0 0 24 24"><path d="M20.71 7.04c.39-.39.39-1.04 0-1.41l-2.34-2.34c-.37-.39-1.02-.39-1.41 0l-1.84 1.83 3.75 3.75M3 17.25V21h3.75L17.81 9.93l-3.75-3.75L3 17.25z" fill="#2fbf80"/></svg><svg class="abs" style="left:873.28px;top:-5.62px" width="11.25" height="11.25" viewBox="0 0 24 24"><rect x="2.6" y="3" width="18.8" height="3.4" fill="#f7c35a"/><rect x="3.6" y="8" width="16.8" height="13" fill="#f7c35a"/><path d="M12 10.2l4.2 4.2-4.2 4.2-4.2-4.2z" fill="#fff"/></svg><svg class="abs" style="left:895.20px;top:-5.4px" width="9.3" height="11" viewBox="0 0 15.3 18"><path d="M11 1.5H3.3Q1.5 1.5 1.5 3.3V11.6Q1.5 13.2 3.3 13.2H8.2" fill="none" stroke="#3dcdf0" stroke-width="1.85" stroke-linecap="round"/><path d="M5.2 14.8V6.6Q5.2 4.8 7 4.8H12Q13.8 4.8 13.8 6.6V14.6Q13.8 16.4 12 16.4H7" fill="none" stroke="#3dcdf0" stroke-width="1.85" stroke-linecap="round"/></svg><svg class="abs" style="left:915.17px;top:-5.62px" width="11.25" height="11.25" viewBox="0 0 24 24"><path d="M19 4h-3.5l-1-1h-5l-1 1H5v2h14M6 19a2 2 0 0 0 2 2h8a2 2 0 0 0 2-2V7H6v12z" fill="#f25b5b"/></svg></div></div>
<div class="row" style="top:533.2px;height:46.0px"><div class="cb" style="left:7.0px;top:18.0px"></div><div class="c b" style="left:36.2px;top:17.8px"><span class="l">189</span></div><div class="c" style="left:85.2px;top:17.8px"><span class="l">134721</span></div><div class="c nm" style="left:143.2px;top:16.6px"><span class="l">29</span>元<span class="l">135G+100</span>分钟<span class="l">&</span>联通云舒卡</div><div class="abs" style="left:359.8px;top:7.5px;width:31px;height:31px"><svg width="31" height="31" viewBox="0 0 31 31"><rect width="31" height="31" fill="#e4352c"/>
<rect x="2" y="2" width="8" height="1.6" fill="#f7b0a8"/><rect x="11" y="1.8" width="7" height="2" fill="#fbe0dc"/>
<circle cx="27" cy="4" r="2.2" fill="none" stroke="#f08a80" stroke-width=".4"/>
<text x="4.3" y="13.6" font-size="7.6" font-weight="bold" fill="#fff" font-family="Liberation Sans" textLength="16.5" lengthAdjust="spacingAndGlyphs">135G</text>
<rect x="22.5" y="8.5" width="3.6" height="4.6" fill="#fde4e0"/>
<rect x="3.5" y="17.6" width="24" height="2.6" rx="1.3" fill="#fbe9ea"/>
<rect x="5" y="18.4" width="16" height="1" fill="#e9a2a0"/>
<text x="4.6" y="26.2" font-size="4.2" fill="#fff" font-family="Liberation Sans" font-weight="bold">29元/月</text>
<ellipse cx="25" cy="27" rx="5" ry="3.6" fill="#aeb8f4"/><ellipse cx="25" cy="27.5" rx="7" ry="1.2" fill="none" stroke="#e7ebff" stroke-width=".6"/>
<circle cx="3" cy="28" r="2" fill="none" stroke="#f08a80" stroke-width=".4"/></svg></div><div class="c" style="left:416.8px;top:17.8px">中国联通</div><div class="c" style="left:475.3px;top:17.8px">随机</div><div class="badge on" style="left:523.4px;top:17.7px">上架中</div><div class="c" style="left:583.1px;top:17.8px"><span style="margin-right:1.2px">¥</span><span class="l">145</span></div><div class="c" style="left:641.0px;top:17.8px"><span style="margin-right:1.2px">¥</span><span class="l">105</span></div><div class="c" style="left:698.1px;top:17.6px;line-height:12.2px">【秒返产品】</div><div class="abs" style="left:0;top:23.6px"><svg class="abs" style="left:831.88px;top:-5.62px" width="11.25" height="11.25" viewBox="0 0 24 24"><circle cx="12" cy="12" r="10" fill="#1c7cf0"/><path d="M10.6 6.2h2.8v4.3h2.6L12 14.6 8 10.5h2.6z" fill="#fff"/><rect x="8" y="15.6" width="8" height="2" fill="#fff"/></svg><svg class="abs" style="left:852.15px;top:-5.85px" width="11.7" height="11.7" viewBox="0 0 24 24"><path d="M20.71 7.04c.39-.39.39-1.04 0-1.41l-2.34-2.34c-.37-.39-1.02-.39-1.41 0l-1.84 1.83 3.75 3.75M3 17.25V21h3.75L17.81 9.93l-3.75-3.75L3 17.25z" fill="#2fbf80"/></svg><svg class="abs" style="left:873.28px;top:-5.62px" width="11.25" height="11.25" viewBox="0 0 24 24"><rect x="2.6" y="3" width="18.8" height="3.4" fill="#f7c35a"/><rect x="3.6" y="8" width="16.8" height="13" fill="#f7c35a"/><path d="M12 10.2l4.2 4.2-4.2 4.2-4.2-4.2z" fill="#fff"/></svg><svg class="abs" style="left:895.20px;top:-5.4px" width="9.3" height="11" viewBox="0 0 15.3 18"><path d="M11 1.5H3.3Q1.5 1.5 1.5 3.3V11.6Q1.5 13.2 3.3 13.2H8.2" fill="none" stroke="#3dcdf0" stroke-width="1.85" stroke-linecap="round"/><path d="M5.2 14.8V6.6Q5.2 4.8 7 4.8H12Q13.8 4.8 13.8 6.6V14.6Q13.8 16.4 12 16.4H7" fill="none" stroke="#3dcdf0" stroke-width="1.85" stroke-linecap="round"/></svg><svg class="abs" style="left:915.17px;top:-5.62px" width="11.25" height="11.25" viewBox="0 0 24 24"><path d="M19 4h-3.5l-1-1h-5l-1 1H5v2h14M6 19a2 2 0 0 0 2 2h8a2 2 0 0 0 2-2V7H6v12z" fill="#f25b5b"/></svg></div></div>
<div class="pg" style="left:766.0px;color:#c4c7cf">‹</div>
<div class="pg" style="left:789.5px;background:#1c84ee;color:#fff;border-radius:50%">1</div>
<div class="pg" style="left:812.6px">2</div>
<div class="pg" style="left:836.0px">3</div>
<div class="pg" style="left:859.2px">4</div>
<div class="pg" style="left:882.7px">5</div>
<div class="pg" style="left:905.8px">6</div>
<div class="pg" style="left:929.0px">7</div>
<div class="pg" style="left:953.0px">›</div></div>
<div id="footer"><div class="abs" style="left:14.5px;top:13px;line-height:10px;font-size:8.125px;color:#74788d"><span class="l">2023 ©</span> <span style="color:#1c84ee">六月熘云</span> 版权所有</div></div>
</body></html>
